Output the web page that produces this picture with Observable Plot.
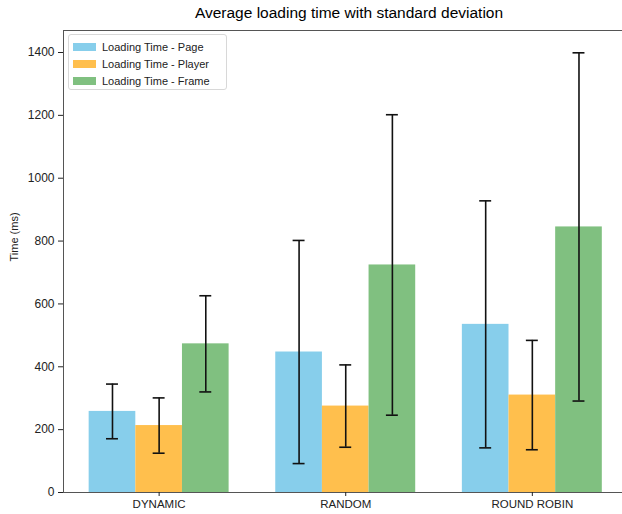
<!DOCTYPE html>
<html>
<head>
<meta charset="utf-8">
<script src="https://cdn.jsdelivr.net/npm/d3@7"></script>
<script src="https://cdn.jsdelivr.net/npm/@observablehq/plot@0.6"></script>
<style>
  html, body { margin: 0; padding: 0; background: #fff; }
  #wrap { position: relative; width: 622px; height: 514px; font-family: "Liberation Sans", Arial, sans-serif; }
  #title { position: absolute; left: 63px; width: 572px; top: 4px; text-align: center; font-size: 15.5px; color: #000; }
  #legend { position: absolute; left: 68px; top: 34px; width: 159px; height: 56px; border: 1px solid #d8d8d8; border-radius: 3px; background: rgba(255,255,255,0.85); box-sizing: border-box; }
  .row { position: absolute; left: 4px; height: 14px; display: flex; align-items: center; font-size: 11px; color: #222; }
  .sw { width: 23px; height: 8px; margin-right: 6px; }
</style>
</head>
<body>
<div id="wrap">
  <div id="chart"></div>
  <div id="title">Average loading time with standard deviation</div>
  <div id="legend"></div>
</div>
<script>
const categories = ["DYNAMIC", "RANDOM", "ROUND ROBIN"];
const series = ["Loading Time - Page", "Loading Time - Player", "Loading Time - Frame"];
const colors = ["#87CEEB", "#FFBF4D", "#80C080"];
const pageMean = [258, 447, 535];
const pageSd = [87, 355, 393];
const playerMean = [213, 275, 310];
const playerSd = [88, 131, 174];
const frameMean = [473, 724, 845];
const frameSd = [153, 478, 554];
const yTicks = [0, 200, 400, 600, 800, 1000, 1200, 1400];

const barWidth = 0.25;
const means = [pageMean, playerMean, frameMean];
const sds = [pageSd, playerSd, frameSd];
const data = [];
series.forEach((s, si) => {
  categories.forEach((c, ci) => {
    const x = ci + (si - 1) * barWidth;
    data.push({series: s, category: c, x, mean: means[si][ci], sd: sds[si][ci]});
  });
});

const xDomain = [-0.5125, 2.4832];
const yDomain = [0, 1470];
const cap = 0.032;

const chart = Plot.plot({
  width: 622,
  height: 514,
  marginLeft: 63,
  marginRight: 0,
  marginTop: 30,
  marginBottom: 22,
  style: {fontFamily: "Liberation Sans, Arial, sans-serif", fontSize: "11.5px", color: "#222", background: "#fff"},
  x: {domain: xDomain, ticks: [0, 1, 2], tickFormat: i => categories[i], tickSize: 4, tickPadding: 3, label: null},
  y: {domain: yDomain, ticks: yTicks, tickFormat: d3.format("d"), tickSize: 5, tickPadding: 4, label: null},
  color: {domain: series, range: colors},
  marks: [
    Plot.rectY(data, {x1: d => d.x - barWidth / 2, x2: d => d.x + barWidth / 2, y1: 0, y2: "mean", fill: "series"}),
    Plot.ruleX(data, {x: "x", y1: d => d.mean - d.sd, y2: d => d.mean + d.sd, stroke: "#111", strokeWidth: 1.6}),
    Plot.ruleY(data, {y: d => d.mean - d.sd, x1: d => d.x - cap, x2: d => d.x + cap, stroke: "#111", strokeWidth: 1.6}),
    Plot.ruleY(data, {y: d => d.mean + d.sd, x1: d => d.x - cap, x2: d => d.x + cap, stroke: "#111", strokeWidth: 1.6}),
    Plot.ruleY([yDomain[0]], {stroke: "#555", strokeWidth: 1}),
    Plot.ruleY([yDomain[1]], {stroke: "#555", strokeWidth: 1}),
    Plot.ruleX([xDomain[0]], {stroke: "#555", strokeWidth: 1}),
    Plot.axisY({ticks: yTicks, tickFormat: d3.format("d"), tickSize: 5, tickPadding: 4, fontSize: 12, label: null}),
    Plot.axisX({ticks: [0, 1, 2], tickFormat: i => categories[i], tickSize: 4, tickPadding: 3, fontSize: 11.5, label: null}),
    Plot.text(["Time (ms)"], {frameAnchor: "left", text: d => d, rotate: -90, dx: -49, fontSize: 11, fill: "#222"})
  ]
});
document.getElementById("chart").appendChild(chart);

const legend = document.getElementById("legend");
series.forEach((s, i) => {
  const row = document.createElement("div");
  row.className = "row";
  row.style.top = (5 + i * 17) + "px";
  const sw = document.createElement("div");
  sw.className = "sw";
  sw.style.background = colors[i];
  const t = document.createElement("span");
  t.textContent = s;
  row.appendChild(sw);
  row.appendChild(t);
  legend.appendChild(row);
});
</script>
</body>
</html>
